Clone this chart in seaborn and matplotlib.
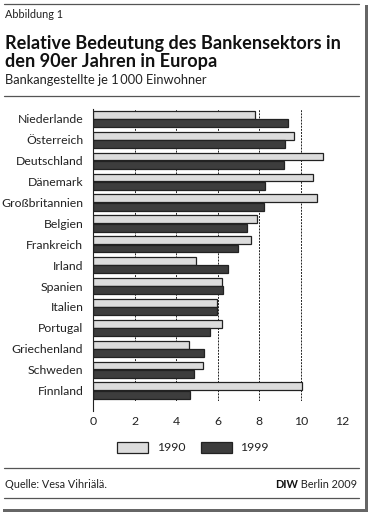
import pandas as pd
import seaborn as sns
import matplotlib.pyplot as plt
from matplotlib.lines import Line2D
from matplotlib.patches import Rectangle

# Bankangestellte je 1 000 Einwohner
laender = ['Niederlande', 'Österreich', 'Deutschland', 'Dänemark', 'Großbritannien',
           'Belgien', 'Frankreich', 'Irland', 'Spanien', 'Italien', 'Portugal',
           'Griechenland', 'Schweden', 'Finnland']
werte_1990 = [7.8, 9.65, 11.07, 10.6, 10.77, 7.88, 7.6, 4.94, 6.19, 5.96, 6.19, 4.6, 5.29, 10.05]
werte_1999 = [9.36, 9.23, 9.18, 8.29, 8.24, 7.42, 6.99, 6.49, 6.23, 5.96, 5.63, 5.34, 4.86, 4.68]
jahre = ['1990', '1999']
x_ticks = [0, 2, 4, 6, 8, 10, 12]

df = pd.DataFrame({
    'Land': laender * 2,
    'Wert': werte_1990 + werte_1999,
    'Jahr': [jahre[0]] * len(laender) + [jahre[1]] * len(laender),
})

sns.set_style('white')
plt.rcParams['font.family'] = ['Lato', 'DejaVu Sans']

W, H = 370, 514
fig = plt.figure(figsize=(W / 100, H / 100), dpi=100)
ax = fig.add_axes([93 / W, 1 - 401 / H, 249.5 / W, 292.5 / H])

sns.barplot(data=df, x='Wert', y='Land', hue='Jahr', orient='h', ax=ax,
            palette={'1990': '#dcdcdc', '1999': '#3d3d3d'},
            edgecolor='#222222', linewidth=0.9, width=0.8, gap=0.06,
            errorbar=None, saturation=1)

ax.set_xlim(0, 12)
ax.set_ylim(len(laender) - 0.5, -0.5)
ax.set_xticks(x_ticks)
ax.set_xticklabels([str(t) for t in x_ticks], fontsize=8.8, color='#222222')
ax.set_xlabel('')
ax.set_ylabel('')
ax.tick_params(axis='y', length=0, pad=7, labelsize=8.8, labelcolor='#222222')
ax.set_yticks([i - 0.5 for i in range(len(laender) + 1)], minor=True)
ax.tick_params(axis='y', which='minor', length=3.2, width=0.8, color='#222222')
ax.tick_params(axis='x', direction='out', length=7.5, width=0.8, color='#333333', pad=3)

ax.grid(axis='x', color='#222222', linewidth=0.7, linestyle=(0, (2, 1.2)))
ax.grid(axis='y', visible=False)
ax.set_axisbelow(True)
for s in ['top', 'right', 'bottom']:
    ax.spines[s].set_visible(False)
ax.spines['left'].set_color('#222222')
ax.spines['left'].set_linewidth(0.8)
ax.spines['left'].set_bounds(len(laender), -0.5)

sns.move_legend(ax, 'center', bbox_to_anchor=(193 / W, 1 - 447.5 / H),
                bbox_transform=fig.transFigure, ncol=2, frameon=False, title=None,
                fontsize=8.8, handlelength=2.5, handleheight=1.0,
                handletextpad=0.7, columnspacing=1.3)
for t in ax.get_legend().get_texts():
    t.set_color('#222222')

# Titel und Fußzeile
fig.text(5 / W, 1 - 14 / H, 'Abbildung 1', fontsize=7.8, va='center', color='#222222')
fig.text(5 / W, 1 - 43.5 / H, 'Relative Bedeutung des Bankensektors in',
         fontsize=13.1, fontweight='bold', va='center', color='#111111')
fig.text(5 / W, 1 - 61 / H, 'den 90er Jahren in Europa',
         fontsize=13.1, fontweight='bold', va='center', color='#111111')
fig.text(5 / W, 1 - 80 / H, 'Bankangestellte je 1\u2009000 Einwohner',
         fontsize=9.3, va='center', color='#222222')
fig.text(5 / W, 1 - 485 / H, 'Quelle: Vesa Vihriälä.', fontsize=7.8, va='center', color='#222222')
berlin = fig.text(357 / W, 1 - 485 / H, ' Berlin 2009', fontsize=7.8, va='center', ha='right',
                  color='#222222')
fig.canvas.draw()
x0 = berlin.get_window_extent().x0
fig.text(x0 / W, 1 - 485 / H, 'DIW', fontsize=7.8, va='center', ha='right',
         fontweight='bold', color='#111111')

for y in [4, 96, 467.5, 497.5]:
    fig.add_artist(Line2D([4 / W, 359 / W], [1 - y / H, 1 - y / H],
                          transform=fig.transFigure, color='#555555', linewidth=0.9))

# Schatten rechts und unten
fig.add_artist(Rectangle((364.5 / W, 1 - 512 / H), 3.5 / W, 507 / H,
                         transform=fig.transFigure, color='#666666', linewidth=0))
fig.add_artist(Rectangle((3 / W, 1 - 512 / H), 365 / W, 3.5 / H,
                         transform=fig.transFigure, color='#666666', linewidth=0))

fig.savefig('out.png', dpi=100)
